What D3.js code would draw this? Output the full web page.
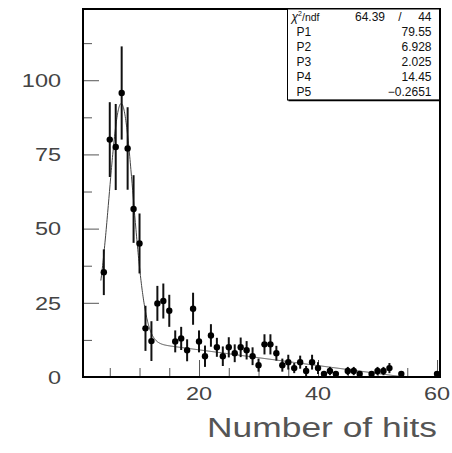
<!DOCTYPE html>
<html><head><meta charset="utf-8">
<script src="https://cdn.jsdelivr.net/npm/d3@7/dist/d3.min.js"></script>
<style>
html,body{margin:0;padding:0;background:#fff;}
svg{display:block;}
</style></head>
<body>
<script>
// ---- data ----
const hits   = [4,5,6,7,8,9,10,11,12,13,14,15,16,17,18,19,20,21,22,23,24,25,26,27,28,29,30,31,32,33,34,35,36,37,38,39,40,41,42,43,45,46,47,49,50,51,52,54,60];
const counts = [35.3,80.0,77.5,95.7,77.0,56.6,45.0,16.4,12.1,24.8,25.6,22.3,12,13,9,23,12,7,14,10,7,10,8,10,9,7,4,11,11,8,4,5,3,5,2,5,3,1,2,1,2,2,1,1,2,2,3,1,1];
const errors = [7.7,12.6,14.5,15.7,13.9,11.4,10.1,7.6,6.7,5.9,5.9,5.4,3.7,3.9,3.7,5.4,3.7,3.6,3.8,3.2,3.3,3.4,3.0,3.3,3.1,3.0,2.2,3.4,3.4,2.5,2.2,2.5,1.7,2.2,1.7,2.5,2.0,1.0,1.4,1.0,1.4,1.4,1.0,1.0,1.4,1.4,1.7,1.0,1.0];
const fitParams = [79.55, 6.928, 2.025, 14.45, -0.2651];
const statLabels = ["P1","P2","P3","P4","P5"];
const statValues = ["79.55","6.928","2.025","14.45","\u22120.2651"];
const chi2 = "64.39", ndf = "44";
const yTickLabels = [0,25,50,75,100];
const xTickLabels = [20,40,60];
const xLabel = "Number of hits";

const W = 452, H = 453;
const svg = d3.select("body").append("svg").attr("width", W).attr("height", H);

const x = d3.scaleLinear().domain([0.5, 60.5]).range([83, 440]);
const y = d3.scaleLinear().domain([0, 124]).range([377, 9]);

const FONT = "'Liberation Sans', Arial, Helvetica, sans-serif";

svg.append("clipPath").attr("id","clip").append("rect")
  .attr("x", 83).attr("y", 9).attr("width", 357).attr("height", 368);

const xMinor = d3.range(5, 60, 5).filter(v => v % 20 !== 0);
const yMinor = [12.5, 37.5, 62.5, 87.5, 112.5];

function strip(g){ g.select(".domain").remove(); g.selectAll("text").remove(); g.selectAll("line").attr("stroke","#555").attr("stroke-width",1); }

svg.append("g").attr("transform","translate(0,377)")
  .call(d3.axisBottom(x).tickValues(xTickLabels).tickSize(-17).tickFormat("")).call(strip);
svg.append("g").attr("transform","translate(0,377)")
  .call(d3.axisBottom(x).tickValues(xMinor).tickSize(-9).tickFormat("")).call(strip);
svg.append("g").attr("transform","translate(83,0)")
  .call(d3.axisRight(y).tickValues(yTickLabels).tickSize(16).tickFormat("")).call(strip);
svg.append("g").attr("transform","translate(83,0)")
  .call(d3.axisRight(y).tickValues(yMinor).tickSize(9).tickFormat("")).call(strip);

svg.append("g").selectAll("text").data(yTickLabels).join("text")
  .attr("transform", d => `translate(61,${y(d)+6.8}) scale(1.27,1)`)
  .attr("text-anchor","end").attr("font-family",FONT).attr("font-size",18.5)
  .attr("fill","#444").text(d => d);
svg.append("g").selectAll("text").data(xTickLabels).join("text")
  .attr("transform", d => `translate(${x(d)},399.5) scale(1.27,1)`)
  .attr("text-anchor","middle").attr("font-family",FONT).attr("font-size",18.5)
  .attr("fill","#444").text(d => d);

svg.append("text")
  .attr("transform","translate(437,437) scale(1.31,1)")
  .attr("text-anchor","end").attr("font-family",FONT).attr("font-size",27)
  .attr("fill","#555").text(xLabel);

const fitFn = t => fitParams[0]*Math.exp(-0.5*Math.pow((t-fitParams[1])/fitParams[2],2)) + fitParams[3] + fitParams[4]*t;
const fitPts = d3.range(3.5, 60.5001, 0.05).map(t => [t, fitFn(t)]);
svg.append("path").attr("clip-path","url(#clip)")
  .attr("d", d3.line().x(d => x(d[0])).y(d => y(Math.max(d[1], -2)))(fitPts))
  .attr("fill","none").attr("stroke","#444").attr("stroke-width",1);

const pts = hits.map((h,i) => ({h, c: counts[i], e: errors[i]}));
const pg = svg.append("g").attr("clip-path","url(#clip)");
pg.selectAll("line.err").data(pts).join("line").attr("class","err")
  .attr("x1", d => x(d.h)).attr("x2", d => x(d.h))
  .attr("y1", d => y(d.c + d.e)).attr("y2", d => y(Math.max(0, d.c - d.e)))
  .attr("stroke","#111").attr("stroke-width",2);
pg.selectAll("circle").data(pts).join("circle")
  .attr("cx", d => x(d.h)).attr("cy", d => y(d.c)).attr("r", 3.2).attr("fill","#000");

svg.append("rect").attr("x",83).attr("y",9).attr("width",357).attr("height",368)
  .attr("fill","none").attr("stroke","#000").attr("stroke-width",2);

const bx = 287.5, by = 9, bw = 152.5, bh = 91;
svg.append("rect").attr("x",bx).attr("y",by).attr("width",bw).attr("height",bh)
  .attr("fill","#fff").attr("stroke","#000").attr("stroke-width",1);
svg.append("line").attr("x1",bx+1).attr("x2",bx+bw).attr("y1",by+bh+0.5).attr("y2",by+bh+0.5)
  .attr("stroke","#000").attr("stroke-width",1.5);
svg.append("line").attr("x1",bx+bw).attr("x2",bx+bw).attr("y1",by).attr("y2",by+bh)
  .attr("stroke","#000").attr("stroke-width",2);
const rowH = bh/6;
const st = svg.append("g").attr("font-family",FONT).attr("font-size",12).attr("fill","#111");
const t0 = st.append("text").attr("x",bx+4).attr("y",by+rowH*0.5+4);
t0.append("tspan").text("\u03c7").attr("font-style","italic");
t0.append("tspan").text("2").attr("font-size",7).attr("dy",-5);
t0.append("tspan").text("/ndf").attr("dy",5).attr("font-size",10.5);
st.append("text").attr("x",385).attr("y",by+rowH*0.5+4).attr("text-anchor","end").text(chi2);
st.append("text").attr("x",400).attr("y",by+rowH*0.5+4).attr("text-anchor","middle").text("/");
st.append("text").attr("x",431.5).attr("y",by+rowH*0.5+4).attr("text-anchor","end").text(ndf);
statLabels.forEach((l,i) => {
  st.append("text").attr("x",bx+9).attr("y",by+rowH*(i+1.5)+4).text(l);
  st.append("text").attr("x",431.5).attr("y",by+rowH*(i+1.5)+4).attr("text-anchor","end").text(statValues[i]);
});
</script>
</body></html>
